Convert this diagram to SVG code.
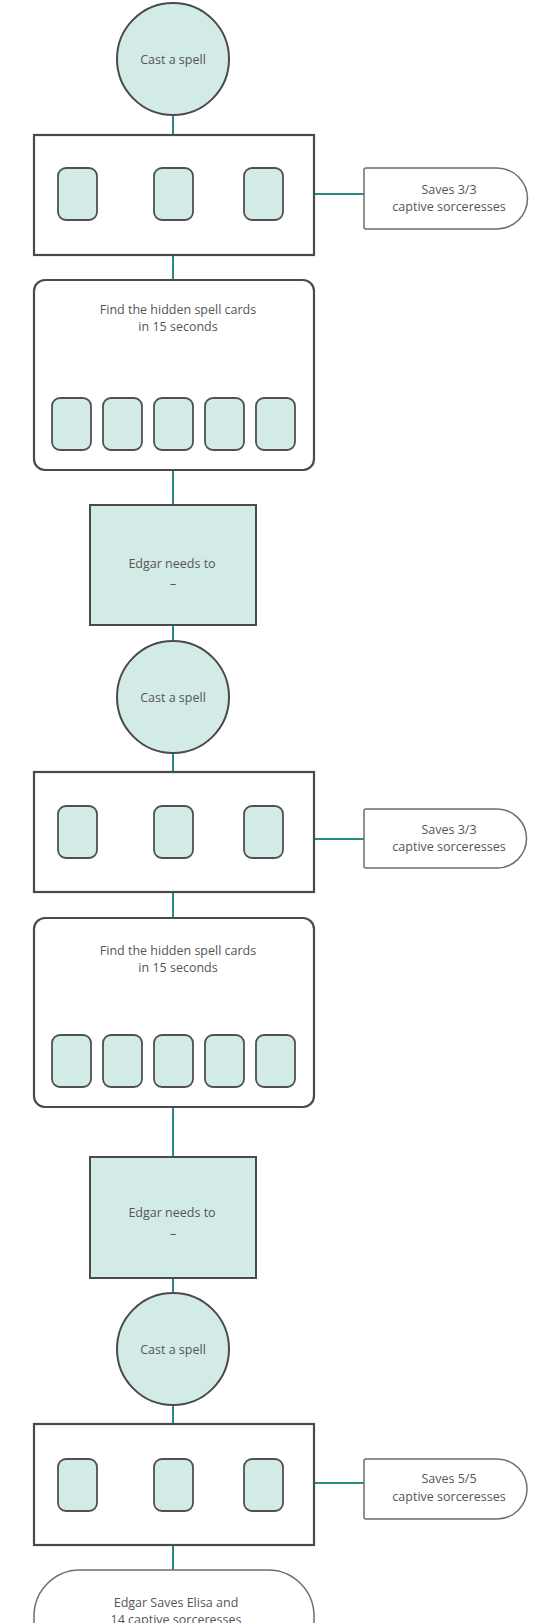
<svg xmlns="http://www.w3.org/2000/svg" width="547" height="1623" viewBox="0 0 547 1623">
  <style>
    .bg { fill: #ffffff; }
    .frame { fill: #ffffff; stroke: #4a4a4a; stroke-width: 2.2; }
    .teal { fill: #d3ebe6; stroke: #4a4a4a; stroke-width: 2; }
    .card { fill: #d3ebe6; stroke: #505050; stroke-width: 1.8; }
    .tag { fill: #ffffff; stroke: #6e6e6e; stroke-width: 1.5; }
    .link { stroke: #2a8980; stroke-width: 2; fill: none; }
    .lbl { font-family: "Open Sans", "Liberation Sans", sans-serif; font-size: 12.5px; fill: #555555; text-anchor: middle; }
  </style>
  <defs>
    <rect id="cardShape" width="39" height="52" rx="8" class="card"/>
  </defs>
  <rect class="bg" x="0" y="0" width="547" height="1623"/>

  <!-- connectors -->
  <g id="connectors">
    <line class="link" x1="173" y1="115" x2="173" y2="135"/>
    <line class="link" x1="314" y1="194" x2="364" y2="194"/>
    <line class="link" x1="173" y1="255" x2="173" y2="280"/>
    <line class="link" x1="173" y1="470" x2="173" y2="505"/>
    <line class="link" x1="173" y1="625" x2="173" y2="641"/>
    <line class="link" x1="173" y1="753" x2="173" y2="772"/>
    <line class="link" x1="314" y1="839" x2="364" y2="839"/>
    <line class="link" x1="173" y1="892" x2="173" y2="918"/>
    <line class="link" x1="173" y1="1107" x2="173" y2="1157"/>
    <line class="link" x1="173" y1="1278" x2="173" y2="1293"/>
    <line class="link" x1="173" y1="1405" x2="173" y2="1424"/>
    <line class="link" x1="314" y1="1483" x2="364" y2="1483"/>
    <line class="link" x1="173" y1="1545" x2="173" y2="1570"/>
  </g>

  <!-- first round -->
  <g id="spell1">
    <circle class="teal" cx="173" cy="59" r="56"/>
    <text class="lbl" x="173" y="64">Cast a spell</text>
  </g>
  <g id="pick1">
    <rect class="frame" x="34" y="135" width="280" height="120"/>
    <use href="#cardShape" x="58" y="168"/>
    <use href="#cardShape" x="154" y="168"/>
    <use href="#cardShape" x="244" y="168"/>
  </g>
  <g id="result1">
    <path class="tag" d="M364,170 Q364,168 366,168 H497 A30.5,30.5 0 0 1 497,229 H366 Q364,229 364,227 Z"/>
    <text class="lbl" x="449" y="194">Saves 3/3</text>
    <text class="lbl" x="449" y="211">captive sorceresses</text>
  </g>
  <g id="hunt1">
    <rect class="frame" x="34" y="280" width="280" height="190" rx="11"/>
    <text class="lbl" x="178" y="314">Find the hidden spell cards</text>
    <text class="lbl" x="178" y="331">in 15 seconds</text>
    <use href="#cardShape" x="52" y="398"/>
    <use href="#cardShape" x="103" y="398"/>
    <use href="#cardShape" x="154" y="398"/>
    <use href="#cardShape" x="205" y="398"/>
    <use href="#cardShape" x="256" y="398"/>
  </g>
  <g id="task1">
    <rect class="teal" x="90" y="505" width="166" height="120"/>
    <text class="lbl" x="172" y="568">Edgar needs to</text>
    <text class="lbl" x="173" y="588">–</text>
  </g>

  <!-- second round -->
  <g id="spell2">
    <circle class="teal" cx="173" cy="697" r="56"/>
    <text class="lbl" x="173" y="702">Cast a spell</text>
  </g>
  <g id="pick2">
    <rect class="frame" x="34" y="772" width="280" height="120"/>
    <use href="#cardShape" x="58" y="806"/>
    <use href="#cardShape" x="154" y="806"/>
    <use href="#cardShape" x="244" y="806"/>
  </g>
  <g id="result2">
    <path class="tag" d="M364,811 Q364,809 366,809 H497 A29.5,29.5 0 0 1 497,868 H366 Q364,868 364,866 Z"/>
    <text class="lbl" x="449" y="834">Saves 3/3</text>
    <text class="lbl" x="449" y="851">captive sorceresses</text>
  </g>
  <g id="hunt2">
    <rect class="frame" x="34" y="918" width="280" height="189" rx="11"/>
    <text class="lbl" x="178" y="955">Find the hidden spell cards</text>
    <text class="lbl" x="178" y="972">in 15 seconds</text>
    <use href="#cardShape" x="52" y="1035"/>
    <use href="#cardShape" x="103" y="1035"/>
    <use href="#cardShape" x="154" y="1035"/>
    <use href="#cardShape" x="205" y="1035"/>
    <use href="#cardShape" x="256" y="1035"/>
  </g>
  <g id="task2">
    <rect class="teal" x="90" y="1157" width="166" height="121"/>
    <text class="lbl" x="172" y="1217">Edgar needs to</text>
    <text class="lbl" x="173" y="1238">–</text>
  </g>

  <!-- third round -->
  <g id="spell3">
    <circle class="teal" cx="173" cy="1349" r="56"/>
    <text class="lbl" x="173" y="1354">Cast a spell</text>
  </g>
  <g id="pick3">
    <rect class="frame" x="34" y="1424" width="280" height="121"/>
    <use href="#cardShape" x="58" y="1459"/>
    <use href="#cardShape" x="154" y="1459"/>
    <use href="#cardShape" x="244" y="1459"/>
  </g>
  <g id="result3">
    <path class="tag" d="M364,1461 Q364,1459 366,1459 H497 A30,30 0 0 1 497,1519 H366 Q364,1519 364,1517 Z"/>
    <text class="lbl" x="449" y="1483">Saves 5/5</text>
    <text class="lbl" x="449" y="1501">captive sorceresses</text>
  </g>
  <g id="ending">
    <rect class="tag" x="34" y="1570" width="280" height="110" rx="46"/>
    <text class="lbl" x="176" y="1607">Edgar Saves Elisa and</text>
    <text class="lbl" x="176" y="1624">14 captive sorceresses</text>
  </g>
</svg>
